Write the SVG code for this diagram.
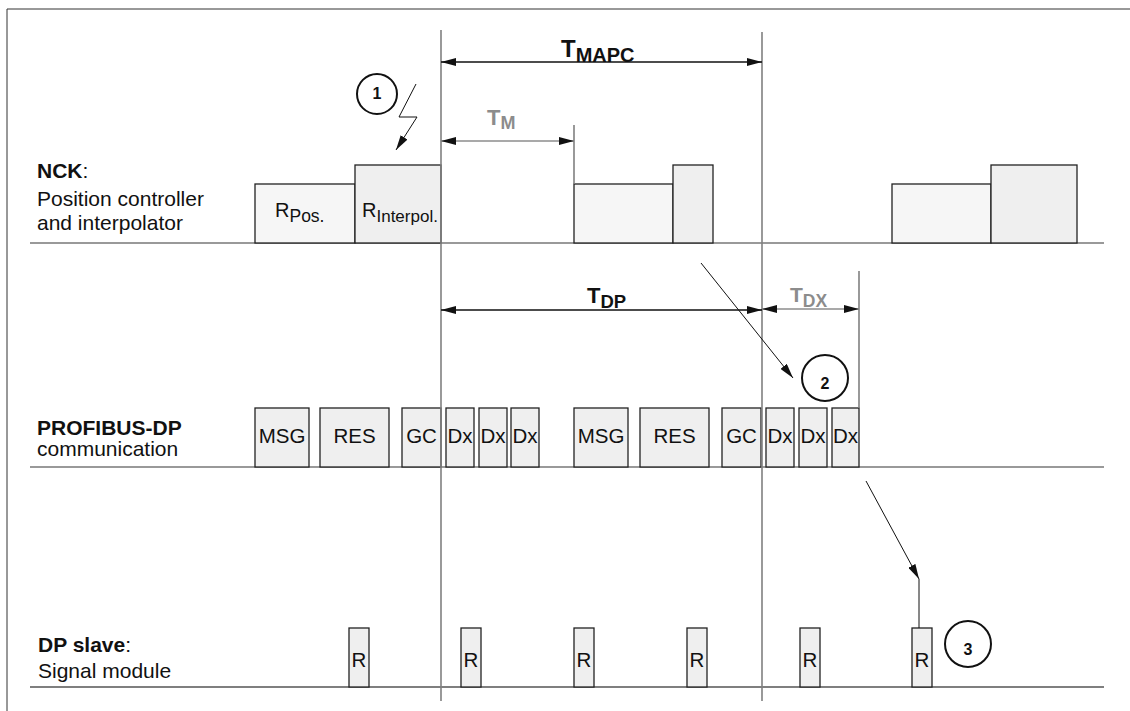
<svg xmlns="http://www.w3.org/2000/svg" width="1130" height="711" viewBox="0 0 1130 711">
<defs>
<marker id="ah" markerUnits="userSpaceOnUse" markerWidth="15" markerHeight="8" refX="15" refY="4" orient="auto-start-reverse">
<path d="M0,0 L15,4 L0,8 z" fill="#111"/>
</marker>
<style>
text{font-family:"Liberation Sans",Arial,sans-serif;fill:#111}
.lbl{font-size:21px}
.b{font-weight:bold}
.grey{fill:#8c8c8c}
.box{stroke:#222;stroke-width:1.3;fill:#efefef}
.box2{stroke:#222;stroke-width:1.3;fill:#f6f6f6}
.base{stroke:#777;stroke-width:1.6}
.vline{stroke:#808080;stroke-width:1.6}
.dim{stroke:#111;stroke-width:1.3;fill:none}
.dimg{stroke:#8c8c8c;stroke-width:1.3;fill:none}
.conn{stroke:#111;stroke-width:1;fill:none}
.circ{stroke:#111;stroke-width:2;fill:#fff}
.num{font-size:16px;font-weight:bold;text-anchor:middle}
.bt{font-size:20.5px;text-anchor:middle}
</style>
</defs>
<rect width="1130" height="711" fill="#fff"/>
<path d="M7,711 V9 H1130" stroke="#333" stroke-width="1" fill="none"/>

<g id="baselines">
<line class="base" x1="30" y1="243" x2="1104" y2="243"/>
<line class="base" x1="30" y1="467" x2="1104" y2="467"/>
<line x1="30" y1="687" x2="1104" y2="687" stroke="#555" stroke-width="1.3"/>
</g>

<g id="row-labels">
<text class="lbl" x="37" y="178"><tspan class="b">NCK</tspan>:</text>
<text class="lbl" x="37" y="206">Position controller</text>
<text class="lbl" x="37" y="230">and interpolator</text>
<text class="lbl b" x="37" y="435">PROFIBUS-DP</text>
<text class="lbl" x="37" y="456">communication</text>
<text class="lbl" x="38" y="652"><tspan class="b">DP slave</tspan>:</text>
<text class="lbl" x="38" y="678">Signal module</text>
</g>

<g id="nck-boxes">
<g id="rpos"><rect class="box2" x="255" y="184" width="100" height="59"/><text x="275" y="217" font-size="20">R<tspan font-size="17.5" dy="4.5">Pos.</tspan></text></g>
<g id="rinterpol"><rect class="box" x="355" y="165" width="86" height="78"/><text x="362" y="217" font-size="20">R<tspan font-size="17" dy="4.5">Interpol.</tspan></text></g>
<g id="nck2a"><rect class="box2" x="574" y="184" width="99" height="59"/></g>
<g id="nck2b"><rect class="box" x="673" y="165" width="40" height="78"/></g>
<g id="nck3a"><rect class="box2" x="892" y="184" width="99" height="59"/></g>
<g id="nck3b"><rect class="box" x="991" y="165" width="86" height="78"/></g>
</g>

<g id="dp-boxes">
<g id="msg1"><rect class="box" x="255" y="408" width="54" height="59"/><text class="bt" x="282" y="443">MSG</text></g>
<g id="res1"><rect class="box" x="320" y="408" width="69" height="59"/><text class="bt" x="354.5" y="443">RES</text></g>
<g id="gc1"><rect class="box" x="402" y="408" width="39" height="59"/><text class="bt" x="421.5" y="443">GC</text></g>
<g id="dx1"><rect class="box" x="446" y="408" width="28" height="59"/><text class="bt" x="460" y="443">Dx</text></g>
<g id="dx2"><rect class="box" x="479" y="408" width="28" height="59"/><text class="bt" x="493" y="443">Dx</text></g>
<g id="dx3"><rect class="box" x="511" y="408" width="28" height="59"/><text class="bt" x="525" y="443">Dx</text></g>
<g id="msg2"><rect class="box" x="574" y="408" width="54" height="59"/><text class="bt" x="601" y="443">MSG</text></g>
<g id="res2"><rect class="box" x="640" y="408" width="69" height="59"/><text class="bt" x="674.5" y="443">RES</text></g>
<g id="gc2"><rect class="box" x="722" y="408" width="39" height="59"/><text class="bt" x="741.5" y="443">GC</text></g>
<g id="dx4"><rect class="box" x="766" y="408" width="28" height="59"/><text class="bt" x="780" y="443">Dx</text></g>
<g id="dx5"><rect class="box" x="799" y="408" width="28" height="59"/><text class="bt" x="813" y="443">Dx</text></g>
<g id="dx6"><rect class="box" x="832" y="408" width="27" height="59"/><text class="bt" x="845.5" y="443">Dx</text></g>
</g>

<g id="slave-boxes">
<g id="r1"><rect class="box" x="349" y="628" width="20" height="59"/><text class="bt" x="359" y="667">R</text></g>
<g id="r2"><rect class="box" x="461" y="628" width="20" height="59"/><text class="bt" x="471" y="667">R</text></g>
<g id="r3"><rect class="box" x="574" y="628" width="20" height="59"/><text class="bt" x="584" y="667">R</text></g>
<g id="r4"><rect class="box" x="687" y="628" width="20" height="59"/><text class="bt" x="697" y="667">R</text></g>
<g id="r5"><rect class="box" x="800" y="628" width="20" height="59"/><text class="bt" x="810" y="667">R</text></g>
<g id="r6"><rect class="box" x="912" y="628" width="20" height="59"/><text class="bt" x="922" y="667">R</text></g>
</g>

<g id="time-lines">
<line class="vline" x1="441" y1="30" x2="441" y2="701"/>
<line class="vline" x1="762" y1="32" x2="762" y2="701"/>
<line class="vline" x1="574" y1="125" x2="574" y2="184" stroke-width="1.3"/>
<line class="vline" x1="859" y1="271" x2="859" y2="408" stroke-width="1.3"/>
</g>

<g id="connectors">
<line class="dim" x1="441" y1="62" x2="762" y2="62" marker-start="url(#ah)" marker-end="url(#ah)"/>
<line class="dimg" x1="441" y1="141" x2="574" y2="141" marker-start="url(#ah)" marker-end="url(#ah)"/>
<line class="dim" x1="441" y1="310" x2="762" y2="310" marker-start="url(#ah)" marker-end="url(#ah)"/>
<line class="dimg" x1="762" y1="309" x2="859" y2="309" marker-start="url(#ah)" marker-end="url(#ah)"/>
<polyline class="conn" points="416,84 399,117 417,117 396,150" marker-end="url(#ah)"/>
<line class="conn" x1="701" y1="263" x2="793" y2="378" marker-end="url(#ah)"/>
<line class="conn" x1="866" y1="481" x2="919" y2="579" marker-end="url(#ah)"/>
<line class="conn" x1="919" y1="579" x2="919" y2="628"/>
</g>

<g id="dim-labels">
<text class="b" x="561" y="57" font-size="24">T<tspan font-size="20" dy="5">MAPC</tspan></text>
<text class="b grey" x="487" y="125" font-size="22">T<tspan font-size="18" dy="4">M</tspan></text>
<text class="b" x="587" y="303" font-size="22">T<tspan font-size="18.5" dy="5">DP</tspan></text>
<text class="b grey" x="790" y="302" font-size="21">T<tspan font-size="17.5" dy="5">DX</tspan></text>
</g>

<g id="marker1"><circle class="circ" cx="377" cy="94" r="20"/><text class="num" x="377" y="99">1</text></g>
<g id="marker2"><circle class="circ" cx="825" cy="378" r="23"/><text class="num" x="825" y="389">2</text></g>
<g id="marker3"><circle class="circ" cx="968" cy="644" r="23"/><text class="num" x="968" y="655">3</text></g>
</svg>
